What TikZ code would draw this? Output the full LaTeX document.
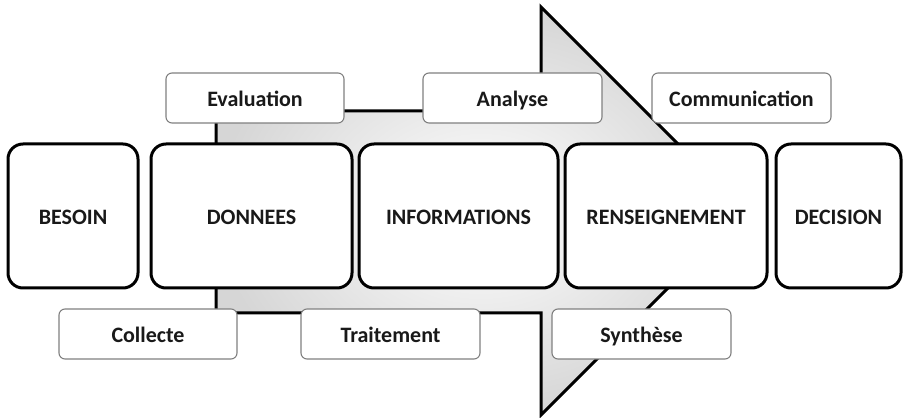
\documentclass[tikz,border=0pt]{standalone}
\usepackage{fontspec}
\setmainfont{Carlito}
\begin{document}
\begin{tikzpicture}[x=1pt,y=1pt,
  lbl/.style={font=\fontsize{22}{26}\selectfont\bfseries, text=black!90, text height=18pt, text depth=1.8pt},
  mainbox/.style={lbl, draw=black, line width=3pt, rounded corners=15pt, fill=white, minimum height=144pt, inner sep=0pt},
  smallbox/.style={lbl, draw=black!50, line width=1.1pt, rounded corners=6pt, fill=white, minimum height=50pt, minimum width=179pt, inner sep=0pt},
  flowarrow/.style={draw=black, line width=3pt, line join=miter,
    path picture={\shade[inner color=white, outer color=gray!32]
      (path picture bounding box.south west) rectangle (path picture bounding box.north east);}}
]
\useasboundingbox (0,0) rectangle (903,418);
% big arrow
\coordinate (a1) at (216,307);
\coordinate (a2) at (541,307);
\coordinate (a3) at (541,411);
\coordinate (tip) at (745,207);
\coordinate (a5) at (541,3);
\coordinate (a6) at (541,105);
\coordinate (a7) at (216,105);
\draw[flowarrow] (a1) -- (a2) -- (a3) -- (tip) -- (a5) -- (a6) -- (a7) -- cycle;
% main boxes
\node[mainbox, minimum width=130pt] (besoin) at (73,202) {BESOIN};
\node[mainbox, minimum width=201pt] (donnees) at (251.5,202) {DONNEES};
\node[mainbox, minimum width=199pt] (infos) at (458.5,202) {INFORMATIONS};
\node[mainbox, minimum width=202pt] (rens) at (666,202) {RENSEIGNEMENT};
\node[mainbox, minimum width=125pt] (decision) at (838.5,202) {DECISION};
% small boxes
\node[smallbox, minimum width=178pt] (eval) at (255,320) {Evaluation};
\node[smallbox] (analyse) at (512.5,320) {Analyse};
\node[smallbox] (comm) at (741.5,320) {Communication};
\node[smallbox, minimum width=178pt] (collecte) at (148,84) {Collecte};
\node[smallbox] (traitement) at (390.5,84) {Traitement};
\node[smallbox] (synthese) at (641.5,84) {Synthèse};
\end{tikzpicture}
\end{document}
